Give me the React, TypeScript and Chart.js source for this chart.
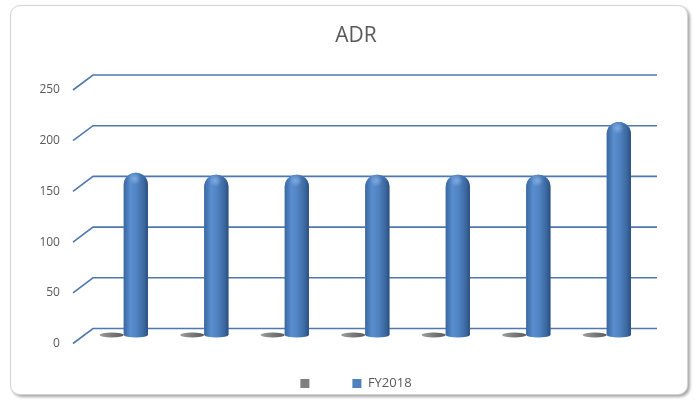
import React, { useEffect, useRef } from "react";
import { Chart, registerables } from "chart.js";

Chart.register(...registerables);

// ---- data ----
const categories = ["", "", "", "", "", "", ""];
const blankLabel = "\u2003\u2003\u2002";
const seriesLabel = "FY2018";
const blankSeries = [0, 0, 0, 0, 0, 0, 0];
const fy2018 = [160, 158, 158, 158, 158, 158, 210];
const yMin = 0;
const yMax = 250;
const yStep = 50;
const chartTitle = "ADR";

// ---- style ----
const FONT = "'Open Sans', 'Liberation Sans', sans-serif";
const TEXT = "#595959";
const GRID = "#4f78ad";
const BLUE = "#4f81bd";
const GRAY = "#7f7f7f";

const depthPlugin = {
  id: "depth3d",
  beforeDatasetsDraw(chart: any) {
    const { ctx, chartArea, scales } = chart;
    const y = scales.y;
    ctx.save();
    ctx.strokeStyle = GRID;
    ctx.lineWidth = 1.6;
    y.ticks.forEach((t: any) => {
      const py = y.getPixelForValue(t.value);
      ctx.beginPath();
      ctx.moveTo(chartArea.left - 10.5, py + 8.5);
      ctx.lineTo(chartArea.left + 9.5, py - 6.5);
      ctx.lineTo(chartArea.right + 10, py - 6.5);
      ctx.stroke();
    });
    ctx.restore();
  },
  afterDatasetsDraw(chart: any) {
    const { ctx } = chart;
    // gray zero-value series: flat discs
    const m0 = chart.getDatasetMeta(0);
    m0.data.forEach((el: any) => {
      const w = el.width;
      const g = ctx.createLinearGradient(el.x - w / 2, 0, el.x + w / 2, 0);
      g.addColorStop(0, "#a0a0a0");
      g.addColorStop(0.5, "#7a7a7a");
      g.addColorStop(1, "#5c5c5c");
      ctx.save();
      ctx.fillStyle = g;
      ctx.beginPath();
      ctx.ellipse(el.x, el.base, w / 2, 2.6, 0, 0, Math.PI * 2);
      ctx.fill();
      ctx.restore();
    });
    // blue cylinders
    const m1 = chart.getDatasetMeta(1);
    m1.data.forEach((el: any) => {
      const w = el.width;
      const x0 = el.x - w / 2;
      const r = w / 2;
      const g = ctx.createLinearGradient(x0, 0, x0 + w, 0);
      g.addColorStop(0, "#3a679f");
      g.addColorStop(0.28, "#5a8ecf");
      g.addColorStop(0.55, "#4f82c1");
      g.addColorStop(0.85, "#3a669d");
      g.addColorStop(1, "#2b4e7b");
      ctx.save();
      ctx.fillStyle = g;
      ctx.beginPath();
      ctx.ellipse(el.x, el.base, w / 2, 2.6, 0, 0, Math.PI * 2);
      ctx.fill();
      ctx.beginPath();
      ctx.roundRect(x0, el.y, w, el.base - el.y, [r, r, 0, 0]);
      ctx.fill();
      const rg = ctx.createRadialGradient(el.x - 1, el.y + 6, 0, el.x - 1, el.y + 6, 6);
      rg.addColorStop(0, "rgba(170,200,240,0.55)");
      rg.addColorStop(1, "rgba(170,200,240,0)");
      ctx.fillStyle = rg;
      ctx.fill();
      ctx.restore();
    });
  },
};

export default function App() {
  const ref = useRef<HTMLCanvasElement | null>(null);

  useEffect(() => {
    if (!ref.current) return;
    const chart = new Chart(ref.current, {
      type: "bar",
      data: {
        labels: categories,
        datasets: [
          {
            label: blankLabel,
            data: blankSeries,
            backgroundColor: GRAY,
            borderWidth: 0,
            categoryPercentage: 0.6,
            barPercentage: 1.0,
          },
          {
            label: seriesLabel,
            data: fy2018,
            backgroundColor: BLUE,
            borderWidth: 0,
            borderRadius: { topLeft: 12, topRight: 12, bottomLeft: 0, bottomRight: 0 },
            borderSkipped: "bottom",
            categoryPercentage: 0.6,
            barPercentage: 1.0,
          },
        ],
      },
      options: {
        responsive: false,
        animation: false,
        layout: { padding: { left: 65, right: 49, top: 10, bottom: 0 } },
        plugins: {
          title: {
            display: true,
            text: chartTitle,
            color: TEXT,
            font: { family: FONT, size: 21, weight: "normal" },
            padding: { top: 13.4, bottom: 32.9 },
          },
          legend: {
            position: "bottom",
            labels: {
              boxWidth: 9,
              boxHeight: 9,
              padding: 4,
              color: TEXT,
              font: { family: FONT, size: 13 },
            },
          },
          tooltip: { enabled: false },
        },
        scales: {
          x: {
            grid: { display: false },
            border: { display: false },
            ticks: { display: false },
            afterFit: (s: any) => {
              s.height = 38;
            },
          },
          y: {
            min: yMin,
            max: yMax,
            grid: { display: false, drawTicks: false },
            border: { display: false },
            ticks: {
              stepSize: yStep,
              mirror: true,
              crossAlign: "far",
              padding: -44.1,
              labelOffset: 8.5,
              color: TEXT,
              font: { family: FONT, size: 12 },
            },
            afterFit: (s: any) => {
              s.width = 18.5;
            },
          },
        },
      },
      plugins: [depthPlugin],
    });
    return () => chart.destroy();
  }, []);

  return (
    <div style={{ position: "fixed", left: 0, top: 0, width: 696, height: 400, background: "#fff" }}>
      <div
        style={{
          position: "absolute",
          left: 10,
          top: 5,
          width: 676,
          height: 388,
          border: "1px solid #d4d4d4",
          borderRadius: 10,
          boxShadow: "2px 2px 3px rgba(0,0,0,0.35)",
          background: "#fff",
        }}
      />
      <canvas
        ref={ref}
        width={696}
        height={400}
        style={{ position: "absolute", left: 0, top: 0, width: 696, height: 400 }}
      />
    </div>
  );
}
